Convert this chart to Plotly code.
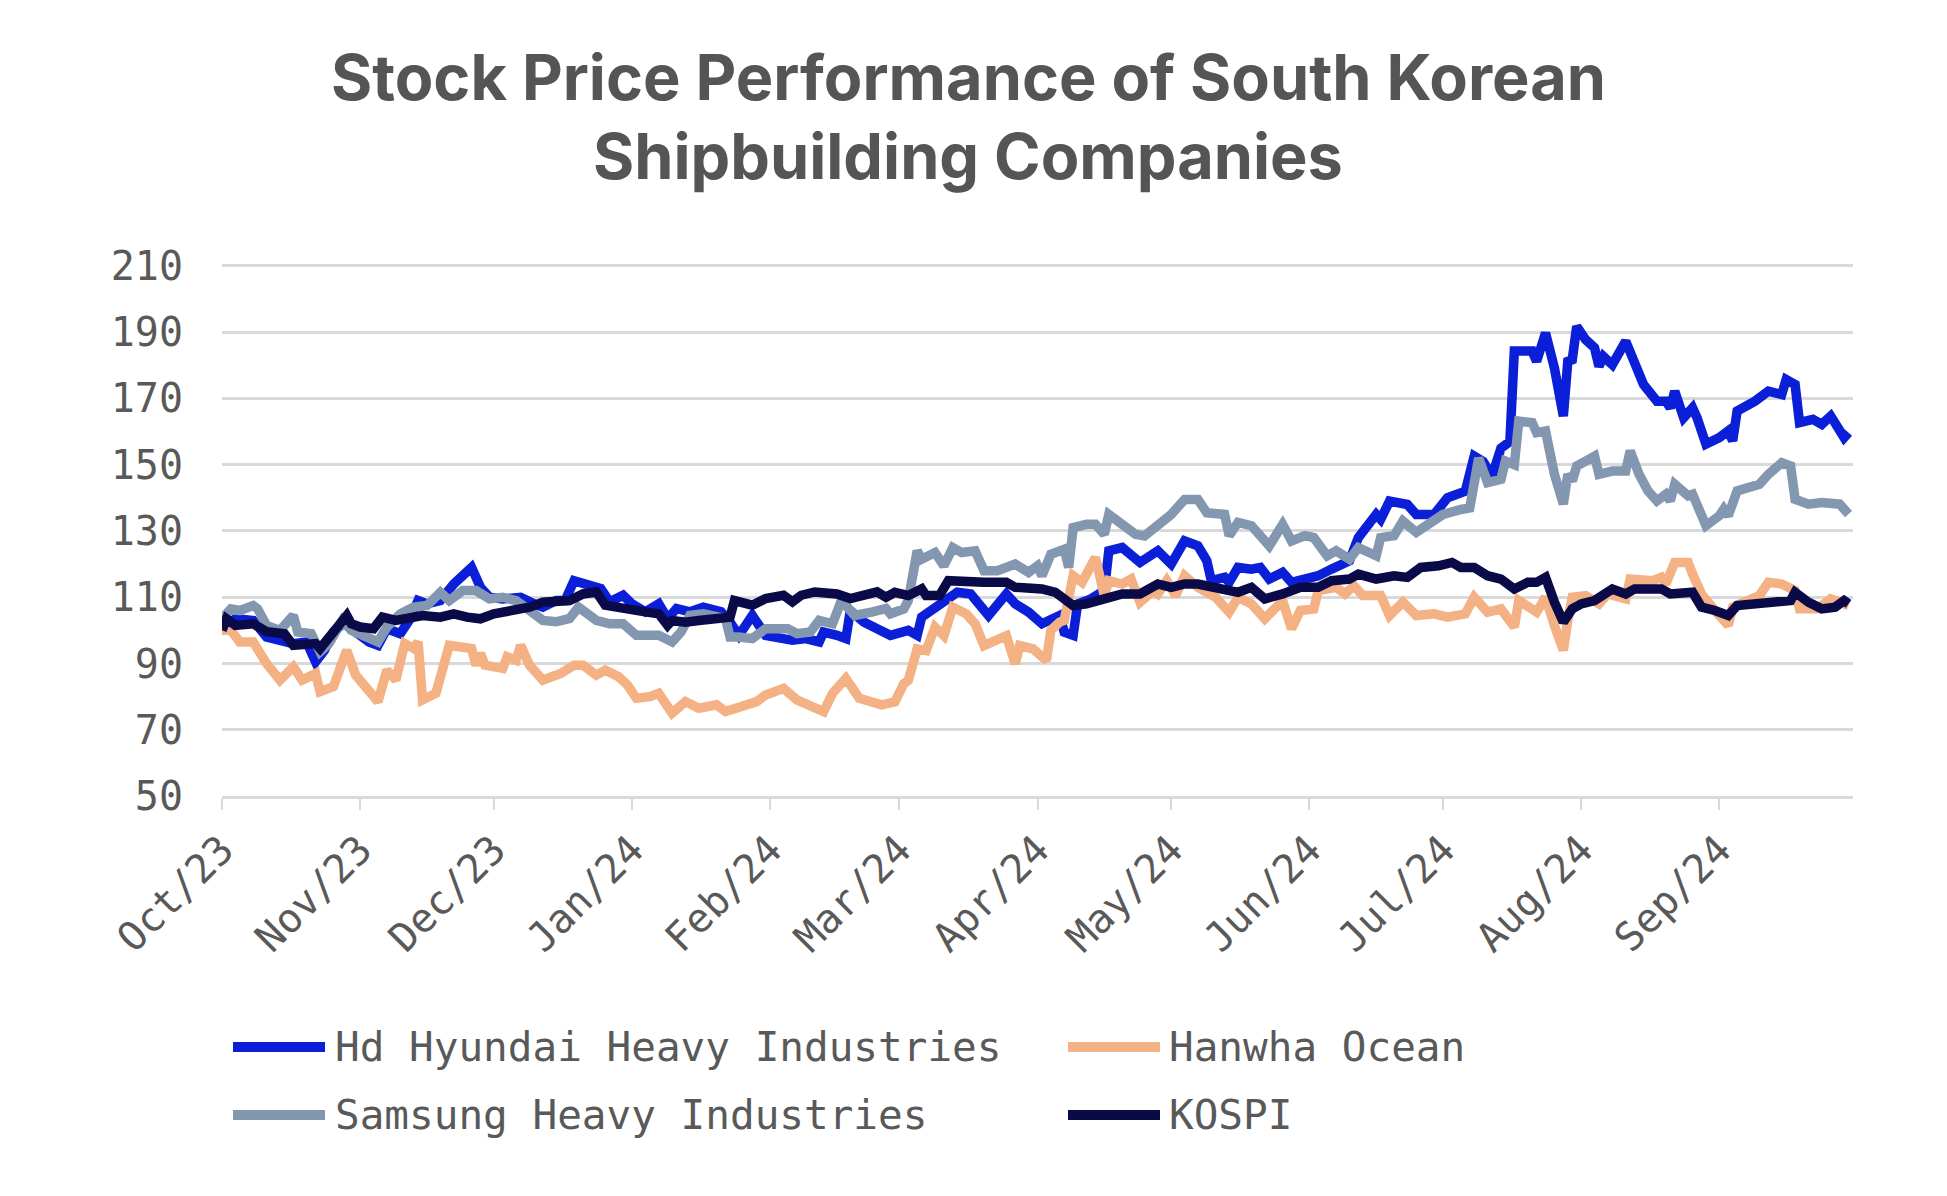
import plotly.graph_objects as go

# ---------------- DATA ----------------
HYUNDAI_DATES = ["2023-10-01","2023-10-04","2023-10-08","2023-10-11","2023-10-14","2023-10-17","2023-10-20","2023-10-22","2023-10-24","2023-10-26",
 "2023-10-29","2023-10-31","2023-11-03","2023-11-05","2023-11-07","2023-11-10","2023-11-12","2023-11-14","2023-11-16","2023-11-19",
 "2023-11-22","2023-11-25","2023-11-26","2023-11-28","2023-11-30","2023-12-03","2023-12-07","2023-12-10","2023-12-12","2023-12-15",
 "2023-12-17","2023-12-19","2023-12-22","2023-12-25","2023-12-27","2023-12-30","2024-01-01","2024-01-04","2024-01-07","2024-01-09",
 "2024-01-11","2024-01-14","2024-01-17","2024-01-21","2024-01-23","2024-01-25","2024-01-28","2024-01-31","2024-02-06","2024-02-09",
 "2024-02-12","2024-02-13","2024-02-16","2024-02-18","2024-02-19","2024-02-22","2024-02-25","2024-02-28","2024-03-03","2024-03-05",
 "2024-03-06","2024-03-09","2024-03-12","2024-03-14","2024-03-17","2024-03-21","2024-03-25","2024-03-27","2024-03-30","2024-04-02",
 "2024-04-06","2024-04-07","2024-04-09","2024-04-10","2024-04-13","2024-04-16","2024-04-17","2024-04-20","2024-04-24","2024-04-28",
 "2024-05-01","2024-05-04","2024-05-07","2024-05-09","2024-05-10","2024-05-13","2024-05-14","2024-05-16","2024-05-19","2024-05-21",
 "2024-05-23","2024-05-26","2024-05-28","2024-05-31","2024-06-03","2024-06-06","2024-06-10","2024-06-12","2024-06-14","2024-06-16",
 "2024-06-17","2024-06-19","2024-06-23","2024-06-24","2024-06-25","2024-06-29","2024-07-02","2024-07-06","2024-07-08","2024-07-10",
 "2024-07-12","2024-07-14","2024-07-16","2024-07-17","2024-07-21","2024-07-22","2024-07-24","2024-07-26","2024-07-28","2024-07-29",
 "2024-07-30","2024-07-31","2024-08-02","2024-08-04","2024-08-05","2024-08-06","2024-08-08","2024-08-11","2024-08-14","2024-08-15",
 "2024-08-18","2024-08-20","2024-08-21","2024-08-22","2024-08-24","2024-08-26","2024-08-27","2024-08-29","2024-09-01","2024-09-03",
 "2024-09-04","2024-09-05","2024-09-09","2024-09-12","2024-09-15","2024-09-16","2024-09-18","2024-09-19","2024-09-22","2024-09-24",
 "2024-09-26","2024-09-29","2024-09-30"]
HYUNDAI = [100,103.5,103,98,97,96,96.5,90.5,94,99.5,
 103,99.5,96.5,95.5,100.5,99,103,109,108,109,
 114,118,119,113,110,109.5,110,108,107,109,
 109,115,114,112.6,108.6,110.6,108,105.6,108,103.5,
 106.6,105.6,107,105.6,102.5,98.5,104.5,98.5,97,97.5,
 96.5,99.5,98.5,97.5,106,102.5,100.5,98.5,100,98.5,
 104,106.5,109.5,111.5,111,104.5,111,108,105.5,102,
 104.5,99.5,98.5,108,109.5,112,124,125,120.5,124,
 120,127,125.5,121,115,116,114.5,119,118.5,119,
 115.5,117.5,114.5,115.5,116.5,118.5,121,128,132,135,
 133.5,139,138,136.5,135,135,140,142,152.6,151,
 146.6,155,157,184.3,184.3,181.2,189.8,179.2,164.7,181.2,
 181.7,191.8,187.8,185.3,179.7,182.7,180.2,187.3,176.2,174.2,
 169.2,169.2,167.2,172.2,164.2,167.2,164.2,156.2,158.2,160.2,
 157.2,166.2,169.2,172.2,171.2,175.7,174.2,162.7,163.7,162.2,
 164.7,158.2,159.7]

HANWHA_DATES = ["2023-10-01","2023-10-03","2023-10-05","2023-10-08","2023-10-11","2023-10-14","2023-10-17","2023-10-19","2023-10-22","2023-10-23",
 "2023-10-26","2023-10-29","2023-10-31","2023-11-05","2023-11-07","2023-11-09","2023-11-11","2023-11-13","2023-11-14","2023-11-15",
 "2023-11-18","2023-11-21","2023-11-26","2023-11-27","2023-11-28","2023-11-29","2023-12-03","2023-12-04","2023-12-06","2023-12-07",
 "2023-12-09","2023-12-12","2023-12-16","2023-12-19","2023-12-21","2023-12-24","2023-12-26","2023-12-29","2023-12-31","2024-01-02",
 "2024-01-05","2024-01-07","2024-01-10","2024-01-13","2024-01-16","2024-01-20","2024-01-22","2024-01-26","2024-01-29","2024-01-31",
 "2024-02-04","2024-02-07","2024-02-10","2024-02-13","2024-02-15","2024-02-18","2024-02-20","2024-02-21","2024-02-26","2024-02-29",
 "2024-03-02","2024-03-03","2024-03-05","2024-03-07","2024-03-09","2024-03-11","2024-03-13","2024-03-16","2024-03-18","2024-03-20",
 "2024-03-25","2024-03-27","2024-03-28","2024-03-31","2024-04-03","2024-04-04","2024-04-06","2024-04-07","2024-04-09","2024-04-11",
 "2024-04-14","2024-04-16","2024-04-17","2024-04-20","2024-04-22","2024-04-24","2024-04-27","2024-04-28","2024-04-30","2024-05-02",
 "2024-05-04","2024-05-07","2024-05-11","2024-05-14","2024-05-16","2024-05-19","2024-05-22","2024-05-26","2024-05-28","2024-05-30",
 "2024-06-02","2024-06-03","2024-06-07","2024-06-09","2024-06-11","2024-06-13","2024-06-17","2024-06-19","2024-06-22","2024-06-25",
 "2024-06-29","2024-07-02","2024-07-06","2024-07-08","2024-07-11","2024-07-14","2024-07-17","2024-07-18","2024-07-22","2024-07-24",
 "2024-07-26","2024-07-28","2024-07-29","2024-07-30","2024-08-02","2024-08-05","2024-08-07","2024-08-11","2024-08-12","2024-08-15",
 "2024-08-17","2024-08-19","2024-08-20","2024-08-22","2024-08-25","2024-08-26","2024-08-28","2024-08-31","2024-09-03","2024-09-04",
 "2024-09-10","2024-09-12","2024-09-15","2024-09-18","2024-09-19","2024-09-23","2024-09-26","2024-09-30"]
HANWHA = [100,100,96.5,96.5,90,85,89,85,87,81.5,
 83,94,86.5,78.5,88,85,96,94.5,96.5,79,
 81,95.5,94.5,89.5,93,89.5,88.5,92,91,95.5,
 89.5,85,87,89.5,89.5,86.5,88,86,83.5,79.5,
 80,81,75,78.5,76.5,77.5,75.5,77.5,78.5,80.5,
 82.5,79,77,75.5,81,85.5,81.5,79.5,77.5,78.4,
 83.9,84.9,94.4,93.9,101,98.4,107,105,102,95.4,
 98.4,89.9,95.4,94.4,90.9,100,102.5,103,116.5,114.5,
 122,110.5,115,114,115.5,108.5,112,111,115,110.5,
 116.5,113,110,105.5,110,108,103.5,109,100.5,106,
 106.5,112,113,111,113.5,110.5,110.5,104.5,108.5,104.5,
 105,104,105,110,105.5,106.5,101,109,105.5,110,
 101.5,94,103,110,110.5,108,111,109.5,115.5,115.5,
 115,116,114,120.5,120.5,117,111,106,101.5,107,
 110.5,114.5,114,112,106.5,106.5,109.5,107.5]

SAMSUNG_DATES = ["2023-10-01","2023-10-02","2023-10-03","2023-10-05","2023-10-08","2023-10-09","2023-10-11","2023-10-14","2023-10-17","2023-10-18",
 "2023-10-21","2023-10-23","2023-10-25","2023-10-28","2023-10-30","2023-11-02","2023-11-05","2023-11-07","2023-11-10","2023-11-13",
 "2023-11-16","2023-11-19","2023-11-21","2023-11-24","2023-11-27","2023-11-30","2023-12-03","2023-12-06","2023-12-09","2023-12-12",
 "2023-12-15","2023-12-18","2023-12-20","2023-12-22","2023-12-24","2023-12-27","2023-12-30","2024-01-02","2024-01-07","2024-01-10",
 "2024-01-12","2024-01-14","2024-01-17","2024-01-22","2024-01-23","2024-01-25","2024-01-28","2024-01-31","2024-02-05","2024-02-07",
 "2024-02-10","2024-02-12","2024-02-15","2024-02-17","2024-02-20","2024-02-24","2024-02-27","2024-02-28","2024-03-02","2024-03-03",
 "2024-03-05","2024-03-06","2024-03-09","2024-03-11","2024-03-13","2024-03-15","2024-03-18","2024-03-20","2024-03-23","2024-03-27",
 "2024-03-30","2024-04-01","2024-04-02","2024-04-04","2024-04-07","2024-04-08","2024-04-09","2024-04-12","2024-04-14","2024-04-16",
 "2024-04-17","2024-04-20","2024-04-23","2024-04-25","2024-04-28","2024-05-01","2024-05-04","2024-05-07","2024-05-09","2024-05-13",
 "2024-05-14","2024-05-16","2024-05-19","2024-05-23","2024-05-26","2024-05-28","2024-05-31","2024-06-02","2024-06-05","2024-06-07",
 "2024-06-10","2024-06-12","2024-06-16","2024-06-17","2024-06-20","2024-06-22","2024-06-25","2024-06-28","2024-07-01","2024-07-05",
 "2024-07-07","2024-07-09","2024-07-11","2024-07-14","2024-07-15","2024-07-17","2024-07-18","2024-07-21","2024-07-22","2024-07-24",
 "2024-07-26","2024-07-28","2024-07-29","2024-07-30","2024-07-31","2024-08-02","2024-08-04","2024-08-05","2024-08-08","2024-08-11",
 "2024-08-12","2024-08-14","2024-08-16","2024-08-18","2024-08-20","2024-08-21","2024-08-22","2024-08-25","2024-08-26","2024-08-29",
 "2024-09-01","2024-09-02","2024-09-03","2024-09-05","2024-09-10","2024-09-12","2024-09-15","2024-09-17","2024-09-18","2024-09-21",
 "2024-09-24","2024-09-28","2024-09-30"]
SAMSUNG = [100,105,106.5,106,107.5,106.5,101.5,100,104.5,99.5,
 99,93.5,96,103,100,98.5,96.5,101,105,107,
 107.5,111.5,109,112,112,109.5,110,109,106,103,
 102.6,103.6,107,105,103,102,102,98.5,98.5,96.5,
 99.5,104.5,105,103.6,98,98,97.5,100.5,100.5,99,
 99.5,103,102,109,104.5,105.6,106.6,105,106.5,109,
 124,121.5,123.5,119.5,125,123.5,124,118,118,120,
 117.5,119.5,116.5,123,124.5,119,131,132,132,129,
 135,132,129,128.5,132,135,139.5,139.5,135.5,135,
 128.6,132.6,131.6,125.5,132,127,128.6,128,122.5,124,
 121.5,125,122.5,128,128.6,133,129.6,132.6,135,136.5,
 137,152,144.6,145.6,151.1,150,163.2,162.7,159.7,160.2,
 147.1,138.1,147.1,145.1,149.6,151.1,152.6,147.1,148.1,148.1,
 154.2,147.1,142.1,139.1,141.1,139.1,144.1,140.6,141.1,131.6,
 134.6,136.6,134.6,142.1,144.1,147.1,150.6,149.6,139.6,138.1,
 138.6,138.1,135.1]

KOSPI_DATES = ["2023-10-01","2023-10-02","2023-10-04","2023-10-06","2023-10-08","2023-10-11","2023-10-13","2023-10-15","2023-10-17","2023-10-19",
 "2023-10-22","2023-10-23","2023-10-26","2023-10-29","2023-10-30","2023-11-01","2023-11-04","2023-11-06","2023-11-09","2023-11-12",
 "2023-11-15","2023-11-19","2023-11-22","2023-11-25","2023-11-28","2023-12-01","2023-12-04","2023-12-06","2023-12-09","2023-12-12",
 "2023-12-15","2023-12-18","2023-12-21","2023-12-24","2023-12-26","2023-12-30","2024-01-02","2024-01-04","2024-01-07","2024-01-09",
 "2024-01-10","2024-01-13","2024-01-16","2024-01-19","2024-01-23","2024-01-24","2024-01-26","2024-01-28","2024-01-31","2024-02-04",
 "2024-02-06","2024-02-08","2024-02-11","2024-02-14","2024-02-16","2024-02-19","2024-02-22","2024-02-25","2024-02-27","2024-02-29",
 "2024-03-03","2024-03-06","2024-03-07","2024-03-10","2024-03-12","2024-03-16","2024-03-20","2024-03-25","2024-03-27","2024-04-02",
 "2024-04-05","2024-04-09","2024-04-12","2024-04-16","2024-04-20","2024-04-24","2024-04-28","2024-05-01","2024-05-04","2024-05-07",
 "2024-05-12","2024-05-16","2024-05-19","2024-05-22","2024-05-26","2024-05-30","2024-06-03","2024-06-06","2024-06-10","2024-06-12",
 "2024-06-16","2024-06-20","2024-06-23","2024-06-26","2024-06-30","2024-07-03","2024-07-05","2024-07-08","2024-07-11","2024-07-14",
 "2024-07-17","2024-07-20","2024-07-22","2024-07-24","2024-07-26","2024-07-28","2024-07-30","2024-08-01","2024-08-04","2024-08-08",
 "2024-08-11","2024-08-13","2024-08-19","2024-08-21","2024-08-26","2024-08-28","2024-08-31","2024-09-03","2024-09-05","2024-09-10",
 "2024-09-15","2024-09-17","2024-09-18","2024-09-21","2024-09-24","2024-09-27","2024-09-29","2024-09-30"]
KOSPI = [100,103.5,101.5,101.5,102,99.6,99,99,95.5,95.5,
 96,94.5,99,104.5,102,101,100.5,104,103,104,
 104.5,104,105,104,103.5,105,105.5,106.5,107,108.5,
 108.6,109,111,111.6,107.6,107,106,105.6,105,101.5,
 103,102.5,103,103.5,104,109,108.6,107.6,109.6,110.6,
 108.6,110.6,111.6,111,111,109.6,110.6,111.6,110,111.5,
 110.5,112.5,110.5,110.5,115,114.5,114.5,114.5,113,112.5,
 111.5,107.5,108,109.5,111,111,114,113,114,114,
 113,111.5,113,109.5,111,113,113,115,115.5,117,
 115.5,116.5,116,119,119.5,120.5,119,119,116.5,115.5,
 112.5,114.5,114.5,116,108.5,102.5,106.5,108,109,112.5,
 111,112.5,112.5,111,111.5,107,106,104.5,107.5,108,
 108.5,109,111.5,108.5,106.5,107,109,108]

SERIES_NAMES = ["Hd Hyundai Heavy Industries", "Hanwha Ocean", "Samsung Heavy Industries", "KOSPI"]
SERIES_COLORS = ["#0b1fd8", "#f4b183", "#8497b0", "#0a0a48"]
MONTH_TICKS = ["2023-10-01","2023-11-01","2023-12-01","2024-01-01","2024-02-01","2024-03-01",
               "2024-04-01","2024-05-01","2024-06-01","2024-07-01","2024-08-01","2024-09-01"]
Y_TICKS = [50, 70, 90, 110, 130, 150, 170, 190, 210]
TITLE_LINES = ["Stock Price Performance of South Korean", "Shipbuilding Companies"]

# ---------------- FIGURE ----------------
# the page body adds an 8px offset, so the figure is 8px smaller than the window
W, H = 1939, 1188
ML, MR, MT, MB = 214, 94, 256, 400
PW, PH = W - ML - MR, H - MT - MB

TXT = "#595959"
GRID = "#d9d9d9"
MONO = "DejaVu Sans Mono"

fig = go.Figure()
data = [(HYUNDAI_DATES, HYUNDAI), (HANWHA_DATES, HANWHA), (SAMSUNG_DATES, SAMSUNG), (KOSPI_DATES, KOSPI)]
for (xs, ys), name, col in zip(data, SERIES_NAMES, SERIES_COLORS):
    fig.add_trace(go.Scatter(x=xs, y=ys, mode="lines", name=name,
                             line=dict(color=col, width=9.5, shape="linear"),
                             showlegend=False))

fig.update_layout(
    width=W, height=H,
    margin=dict(l=ML, r=MR, t=MT, b=MB, autoexpand=False),
    paper_bgcolor="white", plot_bgcolor="white",
    xaxis=dict(type="date", range=["2023-10-01", "2024-10-01"],
               tickvals=MONTH_TICKS, tickformat="%b/%y", tickangle=-45,
               ticks="outside", ticklen=11, tickwidth=2, tickcolor=GRID,
               showgrid=False, zeroline=False,
               showline=True, linecolor=GRID, linewidth=3,
               tickfont=dict(family=MONO, size=40, color=TXT)),
    yaxis=dict(range=[50, 210.6], tickvals=Y_TICKS, showgrid=True, gridcolor=GRID, gridwidth=2.5,
               zeroline=False, showline=False, ticks="", ticklabelstandoff=38,
               tickfont=dict(family=MONO, size=40, color=TXT)),
)

def px2paper_x(px):
    return (px - ML) / PW

def px2paper_y(py):
    return (H - MB - py) / PH

# title (two centred lines)
for line, ty in zip(TITLE_LINES, [69, 148]):
    fig.add_annotation(xref="paper", yref="paper", x=px2paper_x(960), y=px2paper_y(ty),
                       text=line, showarrow=False, xanchor="center", yanchor="middle",
                       font=dict(family="Inter", size=63, color="#555555", weight=700))

# custom legend (2 x 2 grid, long line swatches)
legend_cols = [(225, 317, 325), (1060, 1152, 1159)]
legend_rows = [1039, 1107]
for i, (name, col) in enumerate(zip(SERIES_NAMES, SERIES_COLORS)):
    r, c = divmod(i, 2)
    x0, x1, xt = legend_cols[c]
    yy = px2paper_y(legend_rows[r])
    fig.add_shape(type="line", xref="paper", yref="paper",
                  x0=px2paper_x(x0), x1=px2paper_x(x1), y0=yy, y1=yy,
                  line=dict(color=col, width=10))
    fig.add_annotation(xref="paper", yref="paper", x=px2paper_x(xt), y=yy,
                       text=name, showarrow=False, xanchor="left", yanchor="middle",
                       font=dict(family=MONO, size=41, color=TXT))

fig.write_html("out.html")
